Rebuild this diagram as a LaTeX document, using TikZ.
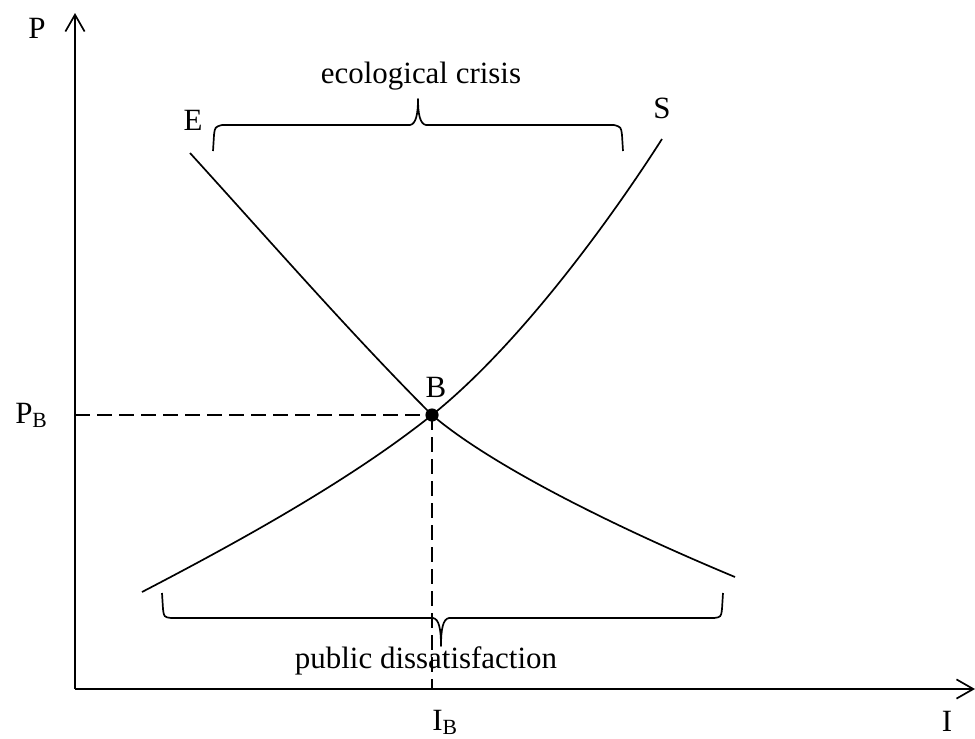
\documentclass[tikz,border=0pt]{standalone}
\usepackage{fontspec}
\setmainfont{Liberation Serif}
\usetikzlibrary{arrows.meta}
\begin{document}
\begin{tikzpicture}[x=0.025cm,y=-0.025cm,
  ln/.style={line width=1.2pt},
  axis/.style={ln, -{Straight Barb[length=0.42cm,width=0.48cm]}},
  guide/.style={ln, dash pattern=on 0.375cm off 0.175cm},
  lbl/.style={anchor=base, inner sep=0pt, font=\fontsize{22}{26}\selectfont},
  bracestyle/.style={ln, line join=round},
  curve/.style={ln, line join=round}]
\useasboundingbox (0,0) rectangle (975,738);
\coordinate (O) at (75,689);
\coordinate (Ytop) at (75,13);
\coordinate (Xend) at (975,689);
\node[circle, fill, inner sep=0pt, minimum size=0.33cm] (B) at (432,415) {};
\coordinate (PB) at (75,415);
\coordinate (IB) at (432,689);
\coordinate (E0) at (190,153);
\coordinate (E1) at (735,577);
\coordinate (S0) at (142,592);
\coordinate (S1) at (662,139);

\draw[axis] (O) -- (Ytop);
\draw[axis] (O) -- (Xend);
\draw[guide] (PB) -- (B.center);
\draw[guide] (B.center) -- (IB);

% E curve
\draw[curve] (E0) .. controls (270,241) and (352,335) .. (B.center)
  .. controls (492,466) and (615,527) .. (E1);
% S curve
\draw[curve] (S0) .. controls (242,540) and (352,479) .. (B.center)
  .. controls (517,347) and (607,225) .. (S1);

% top brace
\draw[bracestyle] (213,151) -- (214,135) .. controls (215,127) .. (222,125) -- (410,125) .. controls (416,124) and (418,114) .. (418,99) .. controls (418,114) and (420,124) .. (426,125) -- (614,125) .. controls (621,127) .. (622,135) -- (623,151);
% bottom brace
\draw[bracestyle] (162,593) -- (163,609) .. controls (164,617) .. (171,618) -- (433,618) .. controls (439,619) and (441,629) .. (441,646) .. controls (441,629) and (443,619) .. (449,618) -- (714,618) .. controls (721,617) .. (722,609) -- (723,593);

\node[lbl] (lP) at (37,38) {P};
\node[lbl] (lE) at (193,130) {E};
\node[lbl] (lS) at (662,118) {S};
\node[lbl] (lB) at (436,397) {B};
\node[lbl, anchor=base west] (lPB) at (15,423) {P\textsubscript{B}};
\node[lbl, anchor=base west] (lIB) at (432,730) {I\textsubscript{B}};
\node[lbl] (lI) at (947,731) {I};
\node[lbl] (lEco) at (421,83) {ecological crisis};
\node[lbl] (lPub) at (426,668) {public dissatisfaction};
\end{tikzpicture}
\end{document}
